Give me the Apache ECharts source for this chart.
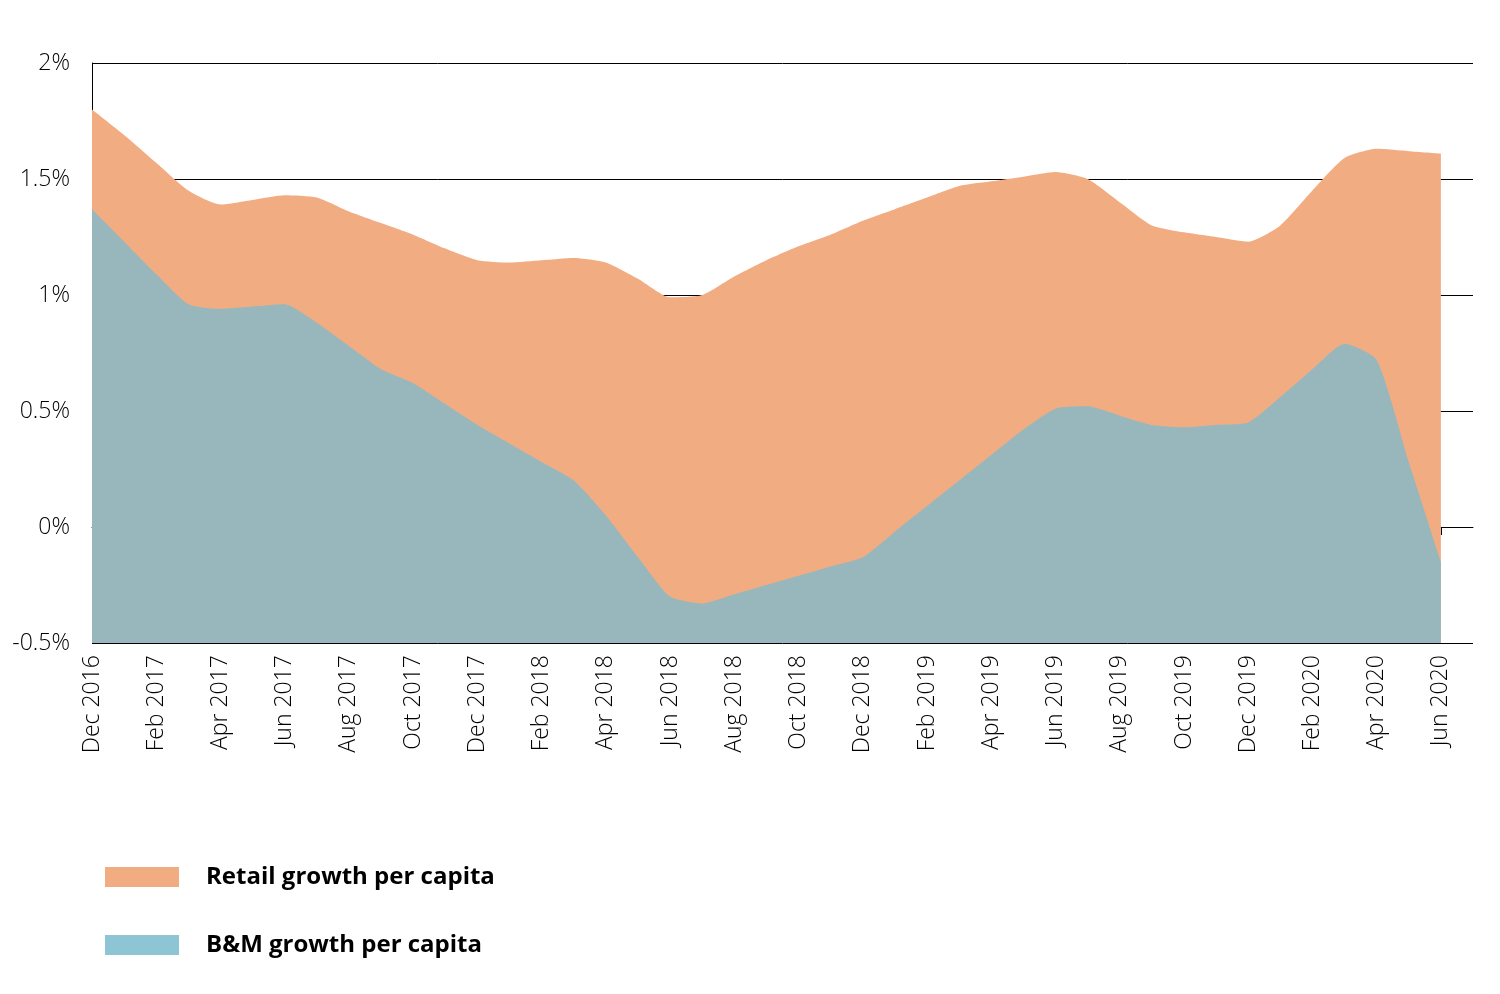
<!DOCTYPE html>
<html><head><meta charset="utf-8">
<script src="https://cdn.jsdelivr.net/npm/echarts@6/dist/echarts.min.js"></script>
<style>html,body{margin:0;padding:0;background:#fff}#c{width:1500px;height:994px}</style>
</head><body><div id="c"></div>
<script>
const months = ['Dec 2016','Jan 2017','Feb 2017','Mar 2017','Apr 2017','May 2017','Jun 2017','Jul 2017','Aug 2017','Sep 2017','Oct 2017','Nov 2017','Dec 2017','Jan 2018','Feb 2018','Mar 2018','Apr 2018','May 2018','Jun 2018','Jul 2018','Aug 2018','Sep 2018','Oct 2018','Nov 2018','Dec 2018','Jan 2019','Feb 2019','Mar 2019','Apr 2019','May 2019','Jun 2019','Jul 2019','Aug 2019','Sep 2019','Oct 2019','Nov 2019','Dec 2019','Jan 2020','Feb 2020','Mar 2020','Apr 2020','May 2020','Jun 2020','Jul 2020'];
const retail = [1.8,1.69,1.57,1.45,1.39,1.41,1.43,1.42,1.36,1.31,1.26,1.2,1.15,1.14,1.15,1.16,1.14,1.07,0.99,1.0,1.08,1.15,1.21,1.26,1.32,1.37,1.42,1.47,1.49,1.51,1.53,1.5,1.4,1.3,1.27,1.25,1.23,1.3,1.45,1.59,1.63,1.62,1.61,null];
const bm = [1.37,1.23,1.09,0.96,0.94,0.95,0.96,0.88,0.78,0.68,0.62,0.53,0.44,0.36,0.28,0.2,0.05,-0.13,-0.3,-0.33,-0.29,-0.25,-0.21,-0.17,-0.13,-0.02,0.09,0.2,0.31,0.42,0.51,0.52,0.48,0.44,0.43,0.44,0.45,0.56,0.68,0.79,0.72,0.28,-0.15,null];
const yTicks = {'2':'2%','1.5':'1.5%','1':'1%','0.5':'0.5%','0':'0%','-0.5':'-0.5%'};
const chart = echarts.init(document.getElementById('c'));
const font = 'Open Sans';
chart.setOption({
  animation:false,
  grid:{left:92,right:27,top:63,bottom:351},
  legend:{orient:'vertical',left:100,top:860,itemWidth:74,itemHeight:20,itemGap:44,
    textStyle:{fontFamily:font,fontWeight:'bold',fontSize:24,color:'#000',padding:[0,0,0,22]},
    data:[{name:'Retail growth per capita',icon:'rect',itemStyle:{color:'#F2AC82'}},
          {name:'B&M growth per capita',icon:'rect',itemStyle:{color:'#8EC5D4'}}]},
  xAxis:{type:'category',data:months,boundaryGap:false,
    axisLine:{lineStyle:{color:'#000',width:1}},
    axisTick:{interval:1,length:8,lineStyle:{color:'#000'}},
    axisLabel:{interval:1,rotate:90,fontFamily:font,fontWeight:300,fontSize:23,color:'#000',margin:12},
    splitLine:{show:false}},
  yAxis:{type:'value',min:-0.5,max:2,interval:0.5,
    axisLine:{show:true,lineStyle:{color:'#000'}},axisTick:{show:false},
    axisLabel:{fontFamily:font,fontWeight:300,fontSize:23,color:'#000',margin:22,formatter:v=>yTicks[String(v)]},
    splitLine:{lineStyle:{color:'#000',width:1}}},
  series:[
    {name:'Retail growth per capita',type:'line',data:retail,smooth:0.2,symbol:'none',
     lineStyle:{width:0},areaStyle:{color:'#F2AC82',opacity:1,origin:'start'},itemStyle:{color:'#F2AC82'},z:1},
    {name:'B&M growth per capita',type:'line',data:bm,smooth:0.2,symbol:'none',
     lineStyle:{width:0},areaStyle:{color:'#97B7BC',opacity:1,origin:'start'},itemStyle:{color:'#8EC5D4'},z:2}
  ]
});
</script></body></html>
